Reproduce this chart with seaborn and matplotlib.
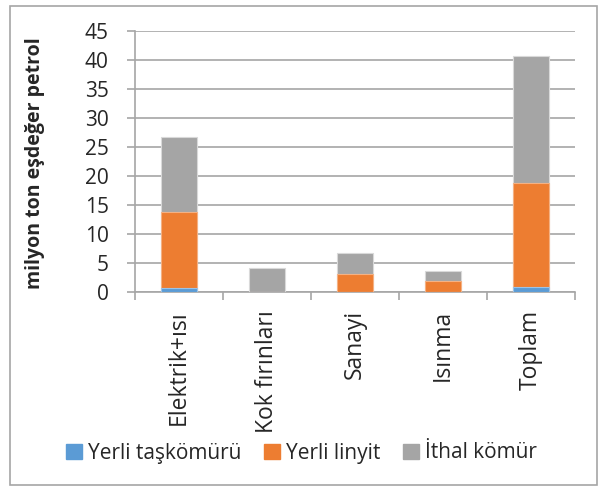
import numpy as np
import matplotlib
matplotlib.use("Agg")
import matplotlib.pyplot as plt
import pandas as pd
import seaborn as sns
from matplotlib.patches import Rectangle

categories = ["Elektrik+ısı", "Kok fırınları", "Sanayi", "Isınma", "Toplam"]
tas = [0.75, 0.0, 0.0, 0.0, 0.85]
linyit = [13.1, 0.0, 3.1, 1.85, 18.0]
ithal = [12.85, 4.1, 3.6, 1.75, 21.85]
series = ["Yerli taşkömürü", "Yerli linyit", "İthal kömür"]
colors = ["#5b9bd5", "#ed7d31", "#a5a5a5"]

sns.set_style("white")
plt.rcParams["font.family"] = ["Open Sans", "DejaVu Sans"]

df = pd.DataFrame({"cat": categories, "tas": tas, "linyit": linyit, "ithal": ithal})
df["c2"] = df["tas"] + df["linyit"]
df["c3"] = df["c2"] + df["ithal"]

fig = plt.figure(figsize=(6.03, 4.96), dpi=100)
ax = fig.add_axes([135 / 603, 1 - 292 / 496, 440 / 603, 261 / 496])

# stacked via overlapping cumulative bars
sns.barplot(data=df, x="cat", y="c3", color=colors[2], width=0.4, ax=ax,
            saturation=1, edgecolor="#d9d9d9", linewidth=0.8, zorder=3)
sns.barplot(data=df, x="cat", y="c2", color=colors[1], width=0.4, ax=ax,
            saturation=1, edgecolor="#f4b183", linewidth=0.8, zorder=3)
sns.barplot(data=df, x="cat", y="tas", color=colors[0], width=0.4, ax=ax,
            saturation=1, edgecolor="#9dc3e6", linewidth=0.8, zorder=3)

ax.set_xlim(-0.5, 4.5)
ax.set_ylim(0, 45)
ax.set_yticks(range(0, 46, 5))
ax.yaxis.grid(True, color="#a6a6a6", linewidth=1.2, zorder=0)
ax.set_axisbelow(True)
for s in ["top", "right"]:
    ax.spines[s].set_visible(False)
for s in ["left", "bottom"]:
    ax.spines[s].set_color("#a6a6a6")
    ax.spines[s].set_linewidth(1.2)

ax.set_xticks(np.arange(-0.5, 5.0, 1.0), minor=False)
ax.set_xticklabels([])
ax.set_xticks(range(5), minor=True)
ax.set_xticklabels(categories, minor=True, rotation=90, fontsize=16.5)
ax.tick_params(axis="x", which="major", length=6, color="#a6a6a6", width=1.2, direction="out")
ax.tick_params(axis="x", which="minor", length=0, pad=13)
ax.tick_params(axis="y", length=6, color="#a6a6a6", width=1.2, direction="out", labelsize=15, pad=13)
ax.tick_params(bottom=True, left=True, which="both")
ax.set_xlabel("")
ax.set_ylabel("milyon ton eşdeğer petrol", fontsize=14, fontweight="bold")
ax.yaxis.set_label_coords(-0.205, 0.494)

handles = [Rectangle((0, 0), 1, 1, color=c) for c in colors]
fig.legend(handles, series, loc="center", bbox_to_anchor=(0.5, 1 - 453 / 496),
           ncol=3, frameon=False, fontsize=15, handlelength=0.75, handleheight=0.75,
           handletextpad=0.3, columnspacing=1.1)

fig.patches.append(Rectangle((10 / 603, 1 - 485 / 496), 587 / 603, 479 / 496,
                             transform=fig.transFigure, fill=False,
                             edgecolor="#a6a6a6", linewidth=1.2))

fig.savefig("out.png", dpi=100)
